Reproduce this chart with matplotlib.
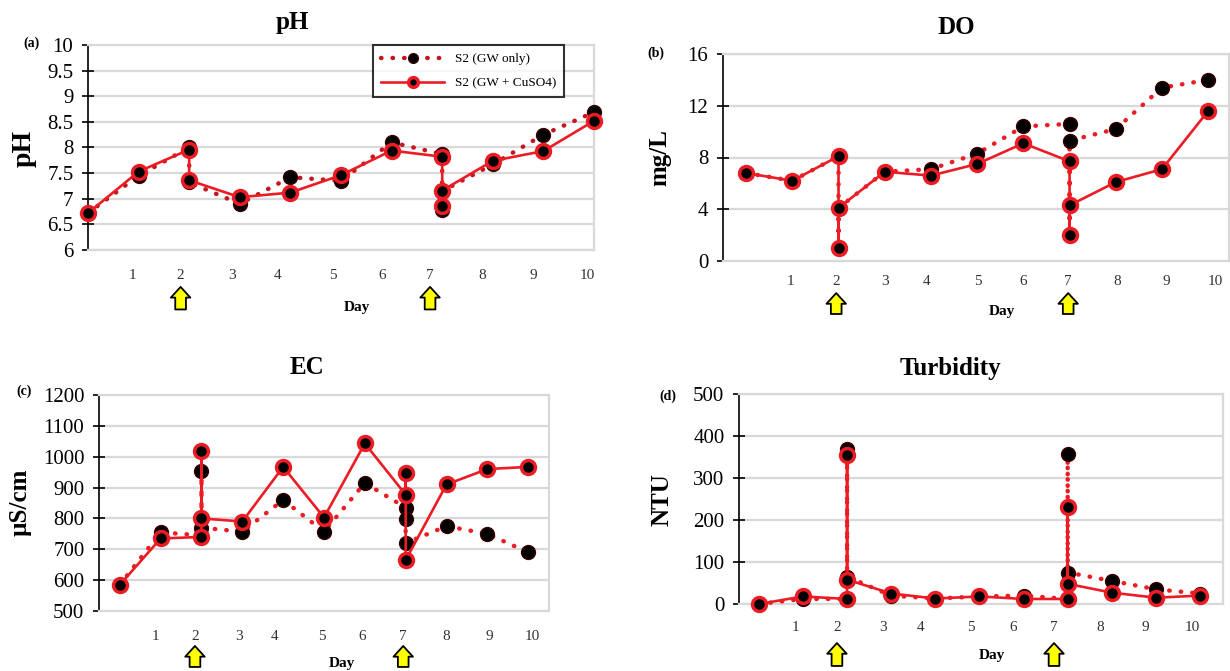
import matplotlib.pyplot as plt

plt.rcParams['font.family'] = ['Liberation Serif', 'DejaVu Serif']

# sampling days (several readings on the dosing days 2 and 7)
days_ph = [0, 1, 2, 2, 3, 4, 5, 6, 7, 7, 7, 8, 9, 10]
days = [0, 1, 2, 2, 2, 3, 4, 5, 6, 7, 7, 7, 8, 9, 10]

ph_gw = [6.72, 7.45, 8.0, 7.32, 6.9, 7.42, 7.35, 8.1, 7.87, 6.78, 7.15, 7.67, 8.25, 8.69]
ph_cu = [6.72, 7.53, 7.96, 7.36, 7.03, 7.12, 7.46, 7.94, 7.82, 6.85, 7.16, 7.74, 7.93, 8.52]

do_gw = [6.8, 6.2, 8.1, 1.0, 4.1, 6.9, 7.1, 8.3, 10.4, 10.6, 2.0, 9.3, 10.2, 13.4, 14.0]
do_cu = [6.8, 6.2, 8.1, 1.0, 4.1, 6.9, 6.6, 7.5, 9.1, 7.7, 2.0, 4.3, 6.1, 7.1, 11.6]

ec_gw = [585, 755, 745, 955, 770, 757, 860, 757, 915, 835, 797, 720, 775, 750, 690]
ec_cu = [585, 735, 740, 1020, 800, 790, 967, 803, 1043, 877, 948, 665, 910, 960, 967]

turb_gw = [0, 12, 12, 370, 65, 20, 13, 18, 20, 12, 358, 75, 55, 35, 25]
turb_cu = [0, 18, 12, 355, 58, 25, 13, 18, 12, 12, 230, 48, 27, 15, 20]

day_labels = [str(d) for d in range(1, 11)]
dose_idx = [1, 6]  # labels "2" and "7" get the yellow arrows

W, H = 1230, 671
fig = plt.figure(figsize=(W / 100, H / 100), dpi=100)


def box(l, t, r, b):
    return [l / W, 1 - b / H, (r - l) / W, (b - t) / H]


def ftext(x, y, s, **kw):
    fig.text(x / W, 1 - y / H, s, ha='center', va='center', **kw)


def panel(rect, x, gw, cu, xlim, ylim, yticks, ylabels, tick_pos, tick_pad,
          arrow_y, gw_color='#ec1c24'):
    ax = fig.add_axes(rect)
    ax.plot(x, gw, color=gw_color, lw=3.2, linestyle=(0, (0.1, 2.5)),
            dash_capstyle='round', marker='o', ms=10, mfc='black',
            mec='#3a0000', mew=1, clip_on=False, zorder=3,
            label='S2 (GW only)')
    ax.plot(x, cu, color='#ec1c24', lw=1.9, marker='o', ms=10, mfc='black',
            mec='#ec1c24', mew=2.5, clip_on=False, zorder=4,
            label='S2 (GW + CuSO4)')
    ax.set_xlim(*xlim)
    ax.set_ylim(*ylim)
    ax.set_yticks(yticks, ylabels, fontsize=15)
    ax.grid(axis='y', color='#d9d9d9', lw=1.6)
    ax.set_axisbelow(True)
    ax.tick_params(axis='y', direction='inout', length=9, width=1.2, pad=6)
    ax.set_xticks(tick_pos, day_labels, fontsize=11, color='#333333')
    ax.tick_params(axis='x', length=0, pad=tick_pad)
    for s in ['top', 'right', 'bottom']:
        ax.spines[s].set_color('#d9d9d9')
        ax.spines[s].set_linewidth(1.6)
    ax.spines['left'].set_linewidth(1.2)
    tr = ax.get_xaxis_transform()
    for i in dose_idx:
        ax.annotate('', xy=(tick_pos[i], arrow_y[0]), xycoords=tr,
                    xytext=(tick_pos[i], arrow_y[1]), textcoords=tr,
                    annotation_clip=False,
                    arrowprops=dict(arrowstyle='simple,head_length=0.55,head_width=1.0,tail_width=0.55',
                                    fc='#ffff00', ec='black', lw=1.3,
                                    shrinkA=0, shrinkB=0, mutation_scale=14))
    return ax


# (a) pH
ax_a = panel(box(88, 45, 594, 250), days_ph, ph_gw, ph_cu, (0, 10), (6, 10),
             [6, 6.5, 7, 7.5, 8, 8.5, 9, 9.5, 10],
             ['6', '6.5', '7', '7.5', '8', '8.5', '9', '9.5', '10'],
             [0.87, 1.83, 2.85, 3.74, 4.84, 5.81, 6.76, 7.79, 8.81, 9.86], 13.5,
             (-0.18, -0.29), gw_color='#c4161e')
leg = ax_a.legend(loc='upper left', bbox_to_anchor=(373 / W, 1 - 45 / H),
                  bbox_transform=fig.transFigure, fontsize=9.5, frameon=True,
                  fancybox=False, edgecolor='black', handlelength=4.8,
                  borderpad=0.6, labelspacing=0.9, borderaxespad=0)
leg.get_frame().set_linewidth(1.5)
for h in leg.legend_handles:
    h.set_markersize(7)

# (b) DO
panel(box(723, 54, 1229, 261), days, do_gw, do_cu, (-0.5, 10.45), (0, 16),
      [0, 4, 8, 12, 16], ['0', '4', '8', '12', '16'],
      [0.97, 1.95, 3.0, 3.9, 5.02, 6.0, 6.97, 8.03, 9.09, 10.15], 10,
      (-0.155, -0.256))

# (c) EC
panel(box(99, 395, 549, 611), days, ec_gw, ec_cu, (-0.51, 10.51), (500, 1200),
      list(range(500, 1201, 100)), [str(v) for v in range(500, 1201, 100)],
      [0.88, 1.84, 2.92, 3.80, 4.95, 5.93, 6.94, 7.99, 9.04, 10.1], 13.5,
      (-0.162, -0.259))

# (d) Turbidity
panel(box(739, 394, 1223, 604), days, turb_gw, turb_cu, (-0.45, 10.52), (0, 500),
      list(range(0, 501, 100)), [str(v) for v in range(0, 501, 100)],
      [0.82, 1.77, 2.81, 3.67, 4.81, 5.76, 6.69, 7.73, 8.75, 9.82], 12,
      (-0.186, -0.295))

# titles, panel letters, axis labels
ftext(292, 23, 'pH', fontsize=18, fontweight='bold')
ftext(956, 28, 'DO', fontsize=18, fontweight='bold')
ftext(307, 367, 'EC', fontsize=18, fontweight='bold')
ftext(950, 368, 'Turbidity', fontsize=18, fontweight='bold')

ftext(31, 43, '(a)', fontsize=10, fontweight='bold')
ftext(656, 53, '(b)', fontsize=10, fontweight='bold')
ftext(24, 391, '(c)', fontsize=10, fontweight='bold')
ftext(668, 396, '(d)', fontsize=10, fontweight='bold')

ftext(24, 148, 'pH', fontsize=20, fontweight='bold', rotation=90)
ftext(660, 158, 'mg/L', fontsize=18, fontweight='bold', rotation=90)
ftext(20, 502, 'µS/cm', fontsize=18, fontweight='bold', rotation=90)
ftext(662, 500, 'NTU', fontsize=18, fontweight='bold', rotation=90)

ftext(357, 307, 'Day', fontsize=11, fontweight='bold')
ftext(1002, 312, 'Day', fontsize=11, fontweight='bold')
ftext(342, 664, 'Day', fontsize=11, fontweight='bold')
ftext(992, 656, 'Day', fontsize=11, fontweight='bold')

fig.savefig('out.png', dpi=100)
